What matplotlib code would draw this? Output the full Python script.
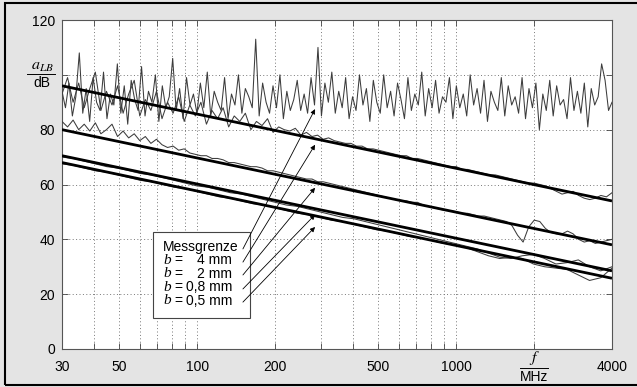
import numpy as np
import matplotlib
matplotlib.use('Agg')
from matplotlib import pyplot as plt
from matplotlib.patches import Rectangle
from matplotlib.ticker import FixedLocator, NullFormatter
import matplotlib.transforms as mtransforms

plt.rcParams['font.family'] = ['Liberation Sans', 'DejaVu Sans']
plt.rcParams['mathtext.fontset'] = 'stix'

messgrenze = [94, 88, 97, 85, 92, 108, 86, 95, 83, 99, 90, 87, 101, 84, 93, 89, 104, 86, 96, 82,
              98, 91, 87, 103, 85, 94, 90, 100, 83, 96, 88, 92, 106, 87, 95, 84, 99, 89, 93, 86,
              97, 88, 101, 85, 94, 90, 87, 99, 84, 93, 89, 100, 86, 95, 92, 88, 113, 85, 97, 90,
              86, 96, 88, 100, 84, 94, 87, 91, 98, 87, 93, 86, 99, 89, 110, 85, 97, 90, 101, 86,
              94, 88, 99, 84, 92, 87, 100, 89, 95, 83, 98, 90, 86, 100, 88, 94, 85, 97, 91, 84,
              99, 87, 93, 89, 101, 85, 95, 88, 98, 86, 92, 90, 99, 84, 96, 88, 93, 85, 100, 89,
              95, 86, 98, 83, 94, 90, 87, 99, 85, 96, 89, 92, 86, 99, 84, 95, 88, 97, 80, 93,
              87, 98, 85, 96, 89, 91, 84, 99, 87, 94, 86, 97, 81, 95, 89, 92, 104, 98, 87, 90]

b4 = [93, 99, 90, 97, 88, 95, 101, 87, 94, 89, 96, 86, 93, 98, 85, 91, 87, 94, 84, 90,
      86, 92, 83, 89, 85, 90, 82, 87, 84, 88, 81, 85, 83, 86, 80, 83, 81.5, 84, 79, 81,
      80, 79.5, 80.5, 78, 79, 77.5, 78, 76.5, 77, 76, 75.5, 75, 75, 74, 74, 73, 73, 72.5, 72, 71.5,
      71, 70.5, 70.5, 69.5, 69.5, 69, 68.5, 68, 67.5, 67, 66.5, 66.5, 65.5, 65.5, 65, 64.5, 64, 63.5, 63.5, 63,
      62.5, 62, 61.5, 61, 60.5, 60.5, 60, 59.5, 58.5, 57.5, 56.5, 57, 57.5, 56, 55, 54.5, 55, 56, 55.5, 57]

b2 = [83, 81, 83.5, 80, 82, 79.5, 82.5, 78.5, 80, 82, 77.5, 79.5, 77, 78.5, 76, 77.5, 75, 76.5, 74.5, 73.5,
      74, 72.5, 73, 71.5, 71, 70.5, 70.5, 69.5, 69.5, 69, 68, 68, 67.5, 67, 66.5, 66.5, 66, 65, 65, 64.5,
      64, 63.5, 63, 62.5, 62, 62, 61, 61, 60.5, 60, 59.5, 59, 58.5, 58, 57.5, 57, 56.5, 56, 55.5, 55,
      54.5, 54, 54, 53.5, 53.5, 52.5, 52, 51.5, 51, 50.5, 50.5, 50, 49.5, 49.5, 49, 48.5, 48.5, 48, 47.5, 47,
      46.5, 45, 41.5, 39, 44.5, 47, 46.5, 44, 42.5, 42, 42, 43, 42, 40, 39, 39.5, 38.5, 39, 39.5, 40]

b08 = [70, 69.5, 68.5, 67.5, 66.5, 66, 65, 64, 63.5, 62.5, 61.5, 60.5, 59.5, 59, 58, 57, 56.5, 55.5, 54.5, 53.5,
       52.5, 52, 51, 50, 49, 48, 47.5, 46.5, 45.5, 44.5, 43.5, 42.5, 41.5, 40.5, 39.5, 38.5, 37.5, 36.5, 35, 33.5,
       33, 34, 34.5, 33, 31, 31.5, 32.5, 30, 28.5, 30]

b05 = [67.5, 67, 66, 65, 64.5, 63.5, 62.5, 61.5, 61, 60, 59, 58.5, 57.5, 56.5, 55.5, 55, 54, 53, 52.5, 51.5,
       50.5, 49.5, 49, 48, 47, 46.5, 45.5, 44.5, 43.5, 43, 42, 41, 40.5, 39.5, 38.5, 38, 37, 35.5, 34, 33,
       33.5, 33, 31, 30, 29.5, 29, 27, 25, 26, 29.5]

# straight fit lines: value at 30 MHz and at 4000 MHz
fit_f = [30, 4000]
fit_start = [96, 80, 70.5, 68]
fit_end = [54, 38, 28.5, 25.8]

legend_rows = ['Messgrenze', '4 mm', '2 mm', '0,8 mm', '0,5 mm']
arrow_tail_f = 150
arrow_tail_db = [36.5, 31.7, 27.0, 21.9, 17.1]
arrow_tip_f = 285
arrow_tip_db = [87.5, 74.5, 58.8, 49.0, 44.5]

fig = plt.figure(figsize=(6.37, 3.87), dpi=100)
fig.patch.set_facecolor('#e4e4e4')
fig.patches.append(Rectangle((5 / 637, 2 / 387), 1.1, 1 - 5 / 387, transform=fig.transFigure,
                             fill=False, ec='black', lw=1.5, clip_on=False))
ax = fig.add_axes([62 / 637, 38 / 387, 550 / 637, 329 / 387])

curve_col = '#3c3c3c'
for vals in [messgrenze, b4, b2, b08, b05]:
    f = np.geomspace(30, 4000, len(vals))
    ax.plot(f, vals, color=curve_col, lw=0.75, zorder=3)

for s, e in zip(fit_start, fit_end):
    ax.plot(fit_f, [s, e], color='black', lw=2.0, zorder=4, solid_capstyle='butt')

ax.set_xscale('log')
ax.set_xlim(30, 4000)
ax.set_ylim(0, 120)

ax.xaxis.set_major_locator(FixedLocator([30, 50, 100, 200, 500, 1000, 2000, 4000]))
ax.set_xticklabels(['30', '50', '100', '200', '500', '1000', '', '4000'])
ax.xaxis.set_minor_locator(FixedLocator([40, 60, 70, 80, 90, 300, 400, 600, 700, 800, 900]))
ax.xaxis.set_minor_formatter(NullFormatter())
ax.set_yticks([0, 20, 40, 60, 80, 100, 120])
ax.set_yticklabels(['0', '20', '40', '60', '80', '', '120'])
ax.tick_params(axis='both', which='both', direction='in', top=True, right=True,
               length=4, width=0.6, color='#444', labelsize=10)
ax.tick_params(axis='x', which='major', pad=8)
ax.tick_params(axis='y', which='major', pad=5)
ax.grid(which='both', ls=(0, (1, 2.5)), color='#777777', lw=0.7)
for sp in ax.spines.values():
    sp.set_color('#555555')
    sp.set_linewidth(0.8)

# y label as fraction
ax.text(-0.036, 0.859, r'$a_{LB}$', transform=ax.transAxes, ha='center', va='center', fontsize=11.5)
ax.plot([-0.063, -0.012], [0.836, 0.836], transform=ax.transAxes, color='black', lw=0.7, clip_on=False)
ax.text(-0.036, 0.810, 'dB', transform=ax.transAxes, ha='center', va='center', fontsize=10)

# x label as fraction at the 2000 MHz position
trans = mtransforms.blended_transform_factory(ax.transData, ax.transAxes)
ax.text(2000, -0.027, r'$f$', transform=trans, ha='center', va='center', fontsize=11.5)
ax.plot([1760, 2270], [-0.058, -0.058], transform=trans, color='black', lw=0.7, clip_on=False)
ax.text(2000, -0.086, 'MHz', transform=trans, ha='center', va='center', fontsize=10)

# legend box with labels
ax.add_patch(Rectangle((0.1655, 0.0942), 0.1763, 0.2614, transform=ax.transAxes,
                       fc='white', ec='#444444', lw=0.8, zorder=6))
row_y = [0.311, 0.270, 0.229, 0.187, 0.147]
ax.text(0.1836, row_y[0], legend_rows[0], transform=ax.transAxes, ha='left', va='center',
        fontsize=10, zorder=7)
for yy, lab in zip(row_y[1:], legend_rows[1:]):
    ax.text(0.1836, yy, 'b', transform=ax.transAxes, ha='left', va='center', fontsize=11,
            family='Liberation Serif', style='italic', zorder=7)
    ax.text(0.2035, yy, '=', transform=ax.transAxes, ha='left', va='center', fontsize=10, zorder=7)
    ax.text(0.309, yy, lab, transform=ax.transAxes, ha='right', va='center', fontsize=10, zorder=7)

for ty, hy in zip(arrow_tail_db, arrow_tip_db):
    ax.annotate('', xy=(arrow_tip_f, hy), xytext=(arrow_tail_f, ty),
                arrowprops=dict(arrowstyle='-|>', lw=0.6, color='black', mutation_scale=7,
                                shrinkA=0, shrinkB=0), zorder=8)

plt.savefig('out.png', dpi=100, facecolor=fig.get_facecolor())
